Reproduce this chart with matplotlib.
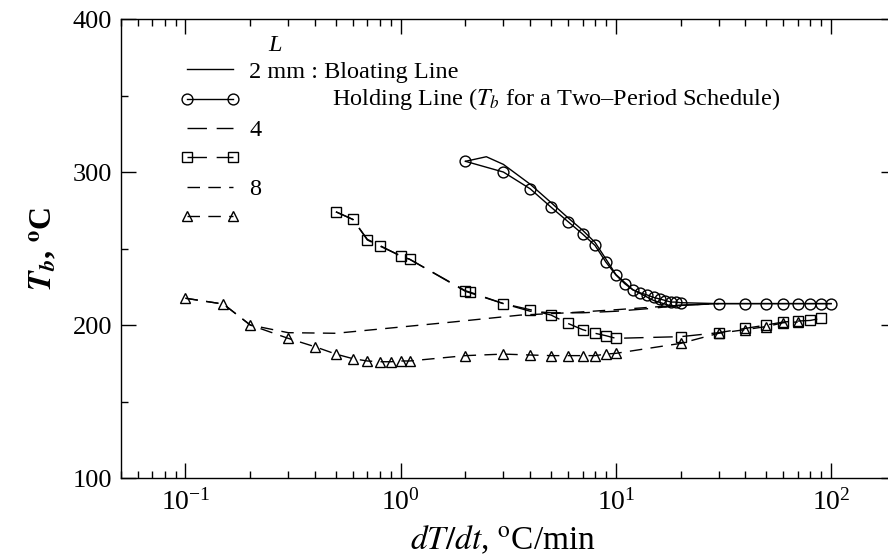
import matplotlib
matplotlib.use("Agg")
import matplotlib.pyplot as plt
from matplotlib.lines import Line2D
from matplotlib.ticker import MultipleLocator, LogLocator

# bloating / holding temperature vs heating rate, L = 2, 4, 8 mm
bloat2_x = [2, 2.5, 3, 4, 5, 6, 7, 8, 9, 10, 12, 15, 18, 30, 50, 100]
bloat2_y = [307, 310, 305, 292, 280, 270, 262, 254, 243, 233, 223, 216, 212.5, 214, 214, 214]

hold2_x = [2, 3, 4, 5, 6, 7, 8, 9, 10, 11, 12, 13, 14, 15, 16, 17, 18, 19, 20,
           30, 40, 50, 60, 70, 80, 90, 100]
hold2_y = [307, 300, 289, 277, 267.5, 259.5, 252, 241, 232.7, 227, 223, 221, 219.6,
           218, 217, 216, 215, 215, 214.6, 214, 214, 214, 214, 214, 214, 214, 214]

bloat4_x = [0.5, 0.6, 0.7, 0.8, 1, 1.1, 2, 3, 4, 5, 7, 10, 15, 20, 30]
bloat4_y = [274, 269, 256, 252, 245, 243, 222, 214, 209, 208, 208, 209, 211, 213, 214]

hold4_x = [0.5, 0.6, 0.7, 0.8, 1, 1.1, 2, 2.1, 3, 4, 5, 6, 7, 8, 9, 10,
           20, 30, 40, 50, 60, 70, 80, 90]
hold4_y = [274, 269, 255.6, 251.6, 245.3, 243, 222.4, 221.5, 214, 210, 206.5, 201,
           197, 194.6, 193, 191.3, 192.4, 195, 197.8, 200, 202, 202.6, 203, 204.4]

bloat8_x = [0.1, 0.15, 0.2, 0.3, 0.5, 0.86, 1.75, 3.6, 6, 10, 20, 30]
bloat8_y = [217.5, 213.7, 200, 195, 194.6, 197.8, 202, 206.5, 208, 210, 213, 214]

hold8_x = [0.1, 0.15, 0.2, 0.3, 0.4, 0.5, 0.6, 0.7, 0.8, 0.9, 1.0, 1.1, 2, 3, 4, 5,
           6, 7, 8, 9, 10, 20, 30, 40, 50, 60, 70]
hold8_y = [217.5, 213.7, 200, 191.3, 185.8, 181, 178, 176.5, 176, 176, 176.5, 176.5,
           180, 181, 180.4, 180, 180, 180, 180, 181, 181.5, 188, 194.6, 197, 199, 201.5, 202]

plt.rcParams['font.family'] = ['Liberation Serif', 'DejaVu Serif']
plt.rcParams['mathtext.fontset'] = 'stix'

ls_long = (0, (14, 7))
ls_short = (0, (9, 6))
mk = dict(markersize=7.8, markerfacecolor='none', markeredgecolor='k', markeredgewidth=1.0)

fig = plt.figure(figsize=(8.88, 5.6), dpi=100)
ax = fig.add_axes([0.1359, 0.1464, 0.873, 0.8196])

ax.plot(bloat2_x, bloat2_y, color='k', lw=1.0, ls='-')
ax.plot(hold2_x, hold2_y, color='k', lw=1.0, ls='-', marker='o', **mk)
ax.plot(bloat4_x, bloat4_y, color='k', lw=1.0, ls=ls_long)
ax.plot(hold4_x, hold4_y, color='k', lw=1.0, ls=ls_long, marker='s', **mk)
ax.plot(bloat8_x, bloat8_y, color='k', lw=1.0, ls=ls_short)
ax.plot(hold8_x, hold8_y, color='k', lw=1.0, ls=ls_short, marker='^', **mk)

ax.set_xscale('log')
ax.set_xlim(0.05, 200)
ax.set_ylim(100, 400)
ax.yaxis.set_major_locator(MultipleLocator(100))
ax.yaxis.set_minor_locator(MultipleLocator(50))
ax.xaxis.set_major_locator(LogLocator(base=10, numticks=10))
ax.xaxis.set_minor_locator(LogLocator(base=10, subs=range(2, 10), numticks=20))

ax.tick_params(which='both', direction='in', top=True, right=True, width=1.0)
ax.tick_params(which='major', length=11)
ax.tick_params(which='minor', length=5)
ax.tick_params(axis='x', which='major', labelsize=20, pad=8)
ax.tick_params(axis='y', which='major', labelsize=19, pad=6)
for s in ax.spines.values():
    s.set_linewidth(1.0)

ax.set_xlabel(r'$dT/dt$, $^{\rm o}$C/min', fontsize=24)
ax.xaxis.set_label_coords(0.493, -0.1)
ax.set_ylabel(r'$\mathbfit{T}_{\mathbfit{b}}$, $^{\mathbf{o}}$C', fontsize=23, fontweight='bold')
ax.yaxis.set_label_coords(-0.08, 0.5)

handles = [
    Line2D([], [], color='k', lw=1.0, ls='-'),
    Line2D([], [], color='k', lw=1.0, ls='-', marker='o', **mk),
    Line2D([], [], color='k', lw=1.0, ls=ls_long),
    Line2D([], [], color='k', lw=1.0, ls=ls_long, marker='s', **mk),
    Line2D([], [], color='k', lw=1.0, ls=ls_short),
    Line2D([], [], color='k', lw=1.0, ls=ls_short, marker='^', **mk),
]
labels = ['2 mm : Bloating Line', ' ', '4', ' ', '8', ' ']
ax.legend(handles, labels, loc='upper left', bbox_to_anchor=(0.0765, 0.909),
          frameon=False, fontsize=17.5, numpoints=2, handlelength=2.5,
          handletextpad=0.35, labelspacing=0.3, borderpad=0, borderaxespad=0)

ax.text(0.19, 0.943, 'L', transform=ax.transAxes, fontsize=17.5, style='italic',
        ha='left', va='center')
ax.text(0.2725, 0.826, 'Holding Line ($T_b$ for a Two\u2013Period Schedule)',
        transform=ax.transAxes, fontsize=17.5, ha='left', va='center')

fig.savefig('out.png', dpi=100)
